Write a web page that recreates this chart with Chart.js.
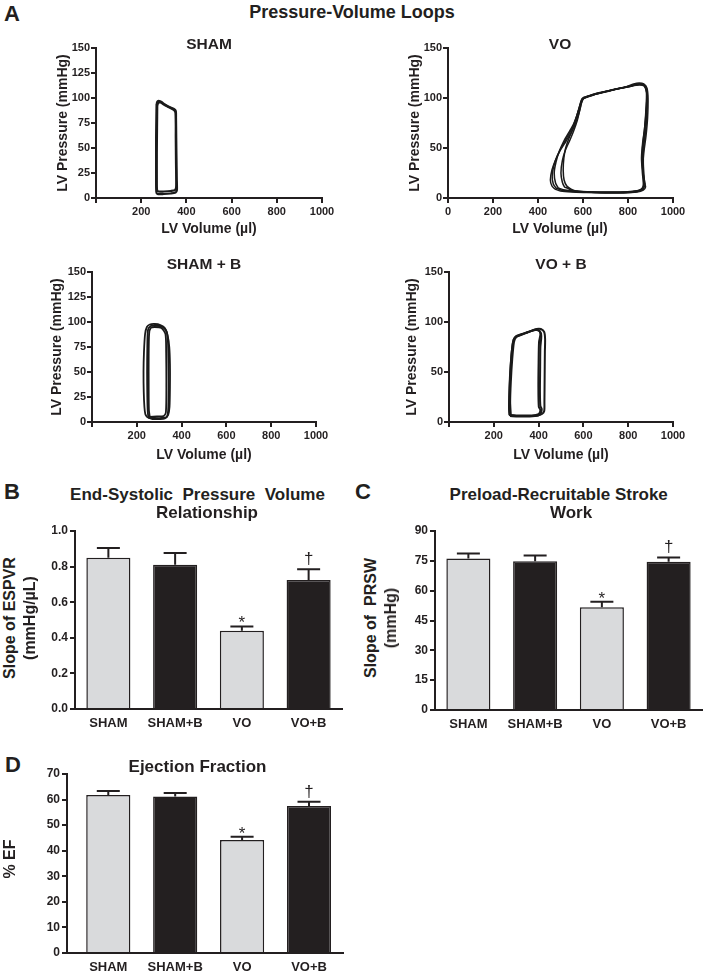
<!DOCTYPE html>
<html><head><meta charset="utf-8">
<script src="https://cdn.jsdelivr.net/npm/chart.js@4.4.1/dist/chart.umd.min.js"></script>
<style>
html,body{margin:0;padding:0;background:#fff}
#fig{position:relative;width:704px;height:976px;overflow:hidden;background:#fff;font-family:'Liberation Sans',Arial,sans-serif;color:#231f20}
#fig canvas{position:absolute}
.t{position:absolute;white-space:pre;font-weight:bold;line-height:1;transform:translate(-50%,-50%)}
.r{transform:translate(-50%,-50%) rotate(-90deg)}
</style></head><body><div id="fig"></div>
<script>
// ---------- DATA ----------
const groups = ['SHAM', 'SHAM+B', 'VO', 'VO+B'];
const espvrMean = [0.85, 0.81, 0.44, 0.725];
const espvrSem  = [0.055, 0.067, 0.024, 0.06];
const prswMean  = [76.2, 74.8, 51.7, 74.5];
const prswSem   = [2.5, 2.9, 2.7, 2.2];
const efMean    = [61.8, 61.2, 44.2, 57.5];
const efSem     = [1.6, 1.4, 1.3, 1.6];
const sigMarks  = ['', '', '*', '\u2020'];
const volTicks  = [0, 200, 400, 600, 800, 1000];

// PV loops: [volume (µl), pressure (mmHg)]
const shamLoops = [
  [[268,94],[267,80],[266,60],[266,40],[266,20],[267,6],[272,4],[300,4],[330,4.5],[352,5.5],[358,8],[357,20],[356,40],[355,60],[354,80],[353,87],[345,89],[325,91],[305,93.5],[290,96],[280,97],[272,96.5],[268,94]],
  [[271,92],[270,70],[269,45],[269,20],[270,8],[276,6.5],[300,6.5],[330,7],[350,8],[355,12],[354,35],[353,60],[352,85],[344,88],[320,91],[300,93.5],[285,95.5],[275,95],[271,92]]
];
const voLoops = [
  [[475,9],[500,7],[550,6],[620,5.5],[700,5],[780,5],[840,6],[868,8],[878,11],[872,16],[866,30],[870,45],[880,62],[887,80],[889,100],[884,110],[870,114],[850,115],[825,114],[790,111],[750,109],[700,106],[660,104],[620,101],[596,99],[588,94],[578,86],[565,76],[548,66],[525,57],[500,48],[478,38],[462,28],[455,18],[462,12],[475,9]],
  [[480,10],[510,7.5],[560,6.5],[640,6],[720,5.5],[800,6],[850,7],[870,10],[876,14],[869,22],[863,35],[868,50],[878,65],[884,85],[886,102],[880,111],[862,114],[835,113],[800,111],[760,109.5],[710,107],[665,105],[625,102],[598,100],[590,96],[580,88],[568,79],[552,70],[530,61],[505,51],[485,42],[470,32],[463,22],[468,14],[480,10]],
  [[490,10],[520,8],[570,7],[650,6],[740,6],[810,6.5],[855,8],[868,12],[864,25],[860,40],[865,55],[874,70],[880,90],[882,105],[872,112],[850,113],[815,112],[775,110],[730,108],[680,105],[640,103],[605,100],[594,97],[584,90],[572,82],[558,74],[538,66],[515,57],[495,47],[480,36],[472,25],[478,15],[490,10]],
  [[530,10],[555,7],[600,6],[680,5.5],[760,5.5],[830,6],[862,9],[870,14],[866,30],[864,48],[872,66],[880,85],[884,104],[876,112],[856,114],[820,112.5],[780,110.5],[735,108.5],[690,106],[645,103.5],[608,100.5],[596,97],[586,88],[575,78],[560,68],[542,58],[522,48],[508,37],[502,25],[508,16],[518,11],[530,10]],
  [[545,9],[570,7],[620,6],[700,5.5],[780,5.5],[840,7],[866,10],[872,16],[868,35],[870,55],[878,75],[884,95],[882,108],[868,113],[845,114],[810,112],[770,110],[720,107.5],[675,105],[632,102],[602,99.5],[593,95],[583,86],[571,77],[556,69],[538,60],[523,50],[515,40],[512,28],[516,18],[528,12],[545,9]]
];
const shamBLoops = [
  [[245,5],[270,3],[300,3],[325,3.5],[340,7],[346,15],[348,35],[348,58],[345,75],[338,86],[325,94],[305,97],[280,98],[258,97.5],[245,95],[237,88],[232,70],[230,50],[231,30],[234,15],[238,8],[245,5]],
  [[252,4],[280,4],[310,4],[333,5],[340,12],[342,35],[341,60],[339,80],[334,90],[315,95],[285,96.5],[262,96],[250,92],[247,75],[246,50],[247,25],[249,10],[252,4]],
  [[258,5],[290,5.5],[320,6],[330,10],[332,40],[331,70],[328,88],[310,94],[280,95],[262,94],[255,88],[253,65],[253,35],[254,12],[258,5]]
];
const voBLoops = [
  [[270,7],[300,6],[350,6],[395,6.5],[415,8],[425,11],[426,20],[427,45],[428,70],[429,83],[425,90],[410,93],[390,93],[360,90.5],[325,88],[300,86],[288,82],[280,70],[274,50],[270,30],[268,15],[270,7]],
  [[272,6],[310,5.5],[360,5.5],[398,6.5],[410,9],[414,13],[408,16],[406,30],[407,55],[408,75],[412,86],[405,91],[385,92],[355,90],[320,87],[297,85],[286,80],[278,65],[272,45],[269,25],[269,12],[272,6]],
  [[276,7],[320,6.5],[370,6.5],[400,8],[408,12],[401,15],[399,35],[400,60],[402,80],[408,88],[400,91.5],[380,92],[350,89.5],[318,87],[300,85],[290,80],[282,62],[276,40],[273,20],[276,7]]
];

// ---------- HELPERS ----------
const INK = '#231f20';
Chart.defaults.font.family = "'Liberation Sans', Arial, sans-serif";
Chart.defaults.color = INK;
const fig = document.getElementById('fig');
function txt(s, x, y, size, rot, weight) {
  const d = document.createElement('div');
  d.className = 't' + (rot ? ' r' : '');
  d.textContent = s;
  d.style.left = x + 'px'; d.style.top = y + 'px'; d.style.fontSize = size + 'px';
  if (weight) d.style.fontWeight = weight;
  fig.appendChild(d);
}
function makeCanvas(area, wy, hx, pt, pr) {
  const c = document.createElement('canvas');
  const w = area.r - area.l + wy + pr, h = area.b - area.t + pt + hx;
  c.width = w; c.height = h;
  c.style.left = (area.l - wy) + 'px'; c.style.top = (area.t - pt) + 'px';
  c.style.width = w + 'px'; c.style.height = h + 'px';
  fig.appendChild(c);
  return c;
}
const axisGrid = {drawOnChartArea: false, tickLength: 5, lineWidth: 2, color: INK};
const axisBorder = {color: INK, width: 2};

function pvChart(area, loops, yStep, showZero, lw) {
  const wy = 60, hx = 30, pt = 10, pr = 22;
  const c = makeCanvas(area, wy, hx, pt, pr);
  return new Chart(c, {
    type: 'scatter',
    data: {datasets: loops.map(L => ({
      data: L.map(p => ({x: p[0], y: p[1]})), showLine: true, borderColor: '#1a1a1a',
      borderWidth: lw, pointRadius: 0, tension: 0.25, fill: false
    }))},
    options: {
      responsive: false, animation: false, devicePixelRatio: 1,
      layout: {padding: {top: pt, right: pr, left: 0, bottom: 0}},
      plugins: {legend: {display: false}, tooltip: {enabled: false}},
      scales: {
        x: {type: 'linear', min: volTicks[0], max: volTicks[volTicks.length - 1],
            afterFit(s) { s.height = hx; },
            ticks: {stepSize: 200, padding: 2, maxRotation: 0, font: {size: 11, weight: 'bold'},
                    callback: v => (v === 0 && !showZero) ? '' : v},
            grid: axisGrid, border: axisBorder},
        y: {min: 0, max: 150, afterFit(s) { s.width = wy; },
            ticks: {stepSize: yStep, padding: 1, font: {size: 11, weight: 'bold'}},
            grid: axisGrid, border: axisBorder}
      }
    }
  });
}

const errPlugin = {
  id: 'errbars',
  afterDatasetsDraw(chart, args, o) {
    const ctx = chart.ctx, ys = chart.scales.y;
    const meta = chart.getDatasetMeta(0);
    ctx.save();
    ctx.strokeStyle = INK; ctx.fillStyle = INK; ctx.lineWidth = 2;
    o.values.forEach((v, i) => {
      const x = meta.data[i].x;
      const y0 = ys.getPixelForValue(v), y1 = ys.getPixelForValue(v + o.errs[i]);
      ctx.beginPath();
      ctx.moveTo(x, y0); ctx.lineTo(x, y1);
      ctx.moveTo(x - 11.5, y1); ctx.lineTo(x + 11.5, y1);
      ctx.stroke();
      const m = o.marks[i];
      if (m) {
        ctx.textAlign = 'center'; ctx.textBaseline = 'alphabetic';
        ctx.font = "17px 'Liberation Sans', Arial, sans-serif";
        ctx.fillText(m, x, m === '*' ? y1 + 2 : y1 - 5);
      }
    });
    ctx.restore();
  }
};

function barChart(area, values, errs, ymax, ystep, fmt, linearX) {
  const wy = 45, hx = 30, pt = 10, pr = 2;
  const c = makeCanvas(area, wy, hx, pt, pr);
  const colors = ['#d9dadc', INK, '#d9dadc', INK];
  const xScale = linearX ? {
      type: 'linear', min: linearX[0], max: linearX[1], offset: false,
      afterFit(s) { s.height = hx; },
      ticks: {stepSize: 1, includeBounds: false, autoSkip: false, padding: 7, maxRotation: 0,
              font: {size: 13, weight: 'bold'}, callback: v => groups[v] ?? ''},
      grid: {display: false, drawTicks: false}, border: axisBorder
    } : {
      type: 'category', afterFit(s) { s.height = hx; },
      ticks: {padding: 7, maxRotation: 0, font: {size: 13, weight: 'bold'}},
      grid: {display: false, drawTicks: false}, border: axisBorder
    };
  return new Chart(c, {
    type: 'bar',
    data: {
      labels: linearX ? undefined : groups,
      datasets: [{
        data: linearX ? values.map((v, i) => ({x: i, y: v})) : values,
        backgroundColor: colors, borderColor: INK, borderWidth: 1.5,
        barPercentage: 0.66, categoryPercentage: 1
      }]
    },
    options: {
      responsive: false, animation: false, devicePixelRatio: 1,
      layout: {padding: {top: pt, right: pr, left: 0, bottom: 0}},
      plugins: {legend: {display: false}, tooltip: {enabled: false},
                errbars: {values: values, errs: errs, marks: sigMarks}},
      scales: {
        x: xScale,
        y: {min: 0, max: ymax, afterFit(s) { s.width = wy; },
            ticks: {stepSize: ystep, padding: 2, font: {size: 12, weight: 'bold'}, callback: fmt},
            grid: axisGrid, border: axisBorder}
      }
    },
    plugins: [errPlugin]
  });
}

// ---------- CHARTS ----------
pvChart({l: 96, r: 322, t: 48, b: 198}, shamLoops, 25, false, 2.2);
pvChart({l: 448, r: 673, t: 48, b: 198}, voLoops, 50, true, 1.5);
pvChart({l: 92, r: 316, t: 272, b: 422}, shamBLoops, 25, false, 1.8);
pvChart({l: 449, r: 673, t: 272, b: 422}, voBLoops, 50, false, 2);

barChart({l: 75, r: 342, t: 531, b: 709}, espvrMean, espvrSem, 1.0, 0.2, v => v.toFixed(1));
barChart({l: 435, r: 702, t: 531, b: 710}, prswMean, prswSem, 90, 15, v => v);
barChart({l: 67, r: 343, t: 774, b: 953}, efMean, efSem, 70, 10, v => v, [-0.617, 3.508]);

// ---------- TEXT ----------
txt('A', 12, 14, 22);
txt('Pressure-Volume Loops', 352, 12, 18);
txt('SHAM', 209, 44, 15.5);
txt('VO', 560, 44, 15.5);
txt('SHAM + B', 204, 264, 15.5);
txt('VO + B', 561, 264, 15.5);
txt('LV Pressure (mmHg)', 62, 123, 14, true);
txt('LV Pressure (mmHg)', 414, 123, 14, true);
txt('LV Pressure (mmHg)', 56, 347, 14, true);
txt('LV Pressure (mmHg)', 411, 347, 14, true);
txt('LV Volume (\u00b5l)', 209, 228, 14);
txt('LV Volume (\u00b5l)', 560, 228, 14);
txt('LV Volume (\u00b5l)', 204, 454, 14);
txt('LV Volume (\u00b5l)', 561, 454, 14);

txt('B', 12, 492, 22);
txt('C', 363, 492, 22);
txt('D', 13, 765, 22);
txt('End-Systolic  Pressure  Volume', 197.5, 494, 17);
txt('Relationship', 207, 511.5, 17);
txt('Preload-Recruitable Stroke', 558.7, 494, 17);
txt('Work', 571, 511.5, 17);
txt('Ejection Fraction', 197.5, 765.5, 17);
txt('Slope of ESPVR', 10, 618, 16, true);
txt('(mmHg/\u00b5L)', 30, 618, 16, true);
txt('Slope of  PRSW', 371, 618, 16, true);
txt('(mmHg)', 391, 618, 16, true);
txt('% EF', 10, 859, 16, true);
</script></body></html>
